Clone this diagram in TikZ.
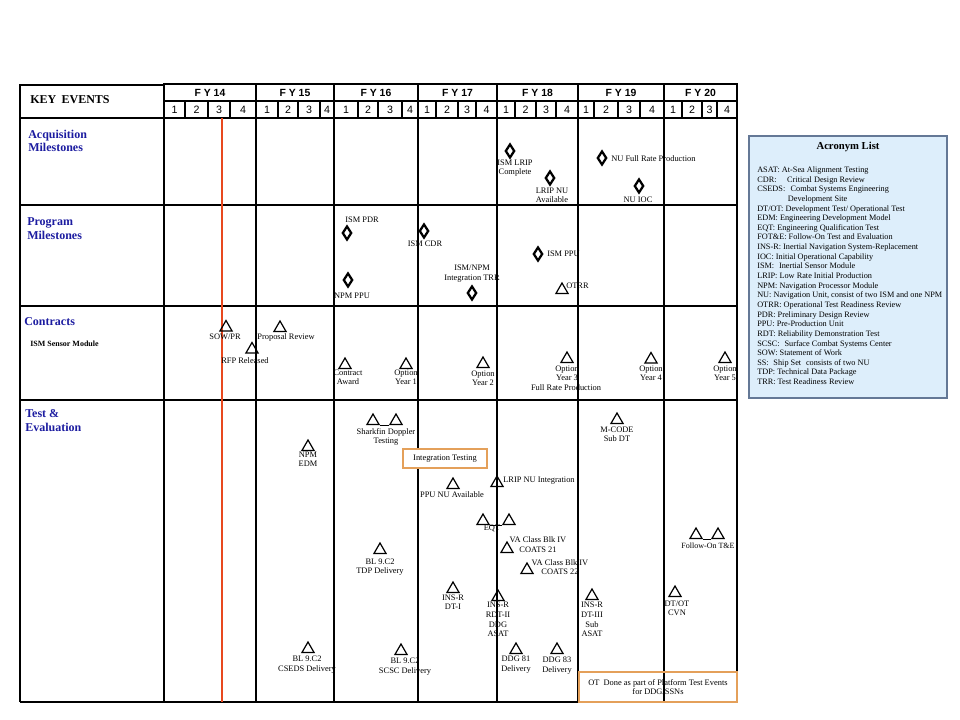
\documentclass[tikz,border=0pt]{standalone}
\usepackage{fontspec}
\setmainfont{Liberation Serif}
\newfontfamily\arialf{Liberation Sans}
\usetikzlibrary{shapes.geometric}
\definecolor{catblue}{RGB}{28,28,160}
\definecolor{redline}{RGB}{232,72,30}
\definecolor{orangebox}{RGB}{228,160,90}
\definecolor{acrofill}{RGB}{221,238,251}
\definecolor{acroedge}{RGB}{100,120,150}
\begin{document}
\begin{tikzpicture}[x=0.75pt,y=-0.75pt,
  grid/.style={line width=1pt},
  thickgrid/.style={line width=2.2pt},
  tri/.style={regular polygon, regular polygon sides=3, draw, line width=0.9pt, minimum size=10.5pt, inner sep=0pt},
  dia/.style={diamond, draw, line width=1.7pt, minimum width=7pt, minimum height=10.5pt, inner sep=0pt},
  lbl/.style={font=\fontsize{6.3}{7}\selectfont, align=center, inner sep=0pt},
  lbl4/.style={font=\fontsize{6.3}{7.25}\selectfont, align=center, inner sep=0pt},
  cat/.style={font=\fontsize{9}{10.3}\selectfont\bfseries, text=catblue, align=left, anchor=north west, inner sep=0pt},
  fyl/.style={font=\arialf\bfseries\fontsize{7.8}{9}\selectfont, inner sep=0pt},
  qn/.style={font=\arialf\fontsize{8}{9}\selectfont, inner sep=0pt},
  obox/.style={draw=orangebox, line width=0.9pt},
  pairline/.style={line width=0.9pt}
]
\useasboundingbox (0,0) rectangle (960,720);

% ---------- header ----------
\draw[grid] (20,85) rectangle (164,118);
\node[font=\fontsize{9}{10}\selectfont\bfseries, anchor=west, inner sep=0pt] (keyev) at (30,100) {KEY\hspace{4pt}EVENTS};
\foreach \a/\b/\t [count=\i] in {164/256/14,256/334/15,334/418/16,418/497/17,497/578/18,578/664/19,664/737/20}{
  \draw[grid] (\a,84) rectangle (\b,101);
  \draw[grid] (\a,101) rectangle (\b,118);
  \node[fyl] (fy\i) at ({(\a+\b)/2},92.5) {F Y \t};
}
\draw[line width=1.8pt] (164,84) rectangle (256,118);
\foreach \a/\b/\n [count=\i] in {164/185/1,185/208/2,208/230/3,230/256/4,
  256/278/1,278/298/2,298/320/3,320/334/4,
  334/358/1,358/378/2,378/402/3,402/418/4,
  418/436/1,436/458/2,458/476/3,476/497/4,
  497/515/1,515/536/2,536/556/3,556/578/4,
  578/594/1,594/618/2,618/640/3,640/664/4,
  664/682/1,682/702/2,702/717/3,717/737/4}{
  \draw[grid] (\b,101) -- (\b,118);
  \node[qn] (q\i) at ({(\a+\b)/2},109.5) {\n};
}

% ---------- body grid ----------
\foreach \y in {118,205,306,400,702}{ \draw[grid] (20,\y) -- (737,\y); }
\foreach \x in {20,164,256,334,418,578,664,737}{ \draw[grid] (\x,118) -- (\x,702); }
\draw[thickgrid] (497,84) -- (497,702);
\draw[line width=2pt, redline] (222,118) -- (222,702);

% ---------- category labels ----------
\node[cat] (cat1) at (28,129.5) {Acquisition\\Milestones};
\node[cat] (cat2) at (27,217.5) {Program\\Milestones};
\node[cat] (cat3) at (24,317.5) {Contracts};
\node[font=\fontsize{6}{7}\selectfont\bfseries, anchor=west, inner sep=0pt] (ismsm) at (30,344) {ISM Sensor Module};
\node[cat] (cat4) at (25,409.5) {Test \&\\Evaluation};

% ---------- acquisition milestones ----------
\node[dia] (d1) at (510,151) {};
\node[lbl] (l1) at (515,168) {ISM LRIP\\Complete};
\node[dia] (d2) at (550,178) {};
\node[lbl] (l2) at (552,195.5) {LRIP NU\\Available};
\node[dia] (d3) at (602,158) {};
\node[lbl, anchor=west] (l3) at (611,159) {NU Full Rate Production};
\node[dia] (d4) at (639,186) {};
\node[lbl] (l4) at (638,200) {NU IOC};

% ---------- program milestones ----------
\node[dia] (d5) at (347,233) {};
\node[lbl] (l5) at (362,220) {ISM PDR};
\node[dia] (d6) at (348,280) {};
\node[lbl] (l6) at (352,296) {NPM PPU};
\node[dia] (d7) at (424,231) {};
\node[lbl] (l7) at (425,244) {ISM CDR};
\node[lbl] (l8) at (472,273.5) {ISM/NPM\\Integration TRR};
\node[dia] (d8) at (472,293) {};
\node[dia] (d9) at (538,254) {};
\node[lbl, anchor=west] (l9) at (547,254) {ISM PPU};
\node[tri] (t1) at (562,290) {};
\node[lbl, anchor=west] (l10) at (566,286) {OTRR};

% ---------- contracts ----------
\node[tri] (c1) at (226,327.5) {};
\node[lbl] (cl1) at (225,337) {SOW/PR};
\node[tri] (c2) at (280,328) {};
\node[lbl] (cl2) at (286,337) {Proposal Review};
\node[tri] (c3) at (252,349.5) {};
\node[lbl] (cl3) at (245,361) {RFP Released};
\node[tri] (c4) at (345,365) {};
\node[lbl] (cl4) at (348,377.5) {Contract\\Award};
\node[tri] (c5) at (406,365) {};
\node[lbl] (cl5) at (406,377.5) {Option\\Year 1};
\node[tri] (c6) at (483,364) {};
\node[lbl] (cl6) at (483,378.5) {Option\\Year 2};
\node[tri] (c7) at (567,359) {};
\node[lbl] (cl7) at (567,373.5) {Option\\Year 3};
\node[lbl] (cl7b) at (566,388) {Full Rate Production};
\node[tri] (c8) at (651,359.5) {};
\node[lbl] (cl8) at (651,373.5) {Option\\Year 4};
\node[tri] (c9) at (725,359) {};
\node[lbl] (cl9) at (725,373.5) {Option\\Year 5};

% ---------- test & evaluation ----------
\node[tri] (e1a) at (373,421) {};
\node[tri] (e1b) at (396,421) {};
\draw[pairline] (e1a.corner 3) -- (e1b.corner 2);
\node[lbl] (el1) at (386,437) {Sharkfin Doppler\\Testing};
\node[tri] (e2) at (308,447) {};
\node[lbl] (el2) at (308,459.5) {NPM\\EDM};
\node[obox, fill=white, minimum width=63pt, minimum height=14.25pt, inner sep=0pt, font=\fontsize{6.3}{7}\selectfont] (itbox) at (445,458.5) {Integration Testing};
\node[tri] (e3) at (453,485) {};
\node[lbl] (el3) at (452,495) {PPU NU Available};
\node[tri] (e4) at (497,483) {};
\node[lbl, anchor=west] (el4) at (503,481) {LRIP NU Integration};
\node[tri] (e5a) at (483,521) {};
\node[tri] (e5b) at (509,521) {};
\draw[pairline] (e5a.corner 3) -- (e5b.corner 2);
\node[lbl] (el5) at (492,528.5) {EQT};
\node[tri] (e6) at (507,549) {};
\node[lbl] (el6) at (538,544.5) {VA Class Blk IV\\COATS 21};
\node[tri] (e7) at (527,570) {};
\node[lbl] (el7) at (560,567) {VA Class Blk IV\\COATS 22};
\node[tri] (e8) at (380,550) {};
\node[lbl] (el8) at (380,567) {BL 9.C2\\TDP Delivery};
\node[tri] (e9) at (453,589) {};
\node[lbl] (el9) at (453,602.5) {INS-R\\DT-I};
\node[tri] (e10) at (498,597) {};
\node[lbl4] (el10) at (498,619.5) {INS-R\\RDT-II\\DDG\\ASAT};
\node[tri] (e11) at (592,596) {};
\node[lbl4] (el11) at (592,619.5) {INS-R\\DT-III\\Sub\\ASAT};
\node[tri] (e12) at (675,593) {};
\node[lbl] (el12) at (677,608.5) {DT/OT\\CVN};
\node[tri] (e13a) at (696,535) {};
\node[tri] (e13b) at (718,535) {};
\draw[pairline] (e13a.corner 3) -- (e13b.corner 2);
\node[lbl, font=\fontsize{6}{7}\selectfont] (el13) at (708,546) {Follow-On T\&E};
\node[tri] (e14) at (617,420) {};
\node[lbl] (el14) at (617,434) {M-CODE\\Sub DT};
\node[tri] (e15) at (308,649) {};
\node[lbl] (el15) at (307,664.5) {BL 9.C2\\CSEDS Delivery};
\node[tri] (e16) at (401,651) {};
\node[lbl] (el16) at (405,666.5) {BL 9.C2\\SCSC Delivery};
\node[tri] (e17) at (516,650) {};
\node[lbl] (el17) at (516,664.5) {DDG 81\\Delivery};
\node[tri] (e18) at (557,650) {};
\node[lbl] (el18) at (557,665.5) {DDG 83\\Delivery};
\node[obox, minimum width=118.5pt, minimum height=22.5pt, inner sep=0pt, lbl] (otbox) at (658,687) {OT\hspace{3pt}Done as part of Platform Test Events\\for DDG/SSNs};

% ---------- acronym list ----------
\node[draw=acroedge, fill=acrofill, line width=0.8pt, minimum width=148.5pt, minimum height=196.5pt, inner sep=0pt] (acrobox) at (848,267) {};
\node[font=\fontsize{8}{9}\selectfont\bfseries, inner sep=0pt] (acrotitle) at (848,147) {Acronym List};
\node[font=\fontsize{6.2}{7.23}\selectfont, align=left, anchor=north west, inner sep=0pt] (acrotext) at (757,166.5) {%
ASAT: At-Sea Alignment Testing\\
CDR:\hspace{8pt}Critical Design Review\\
CSEDS:\hspace{2.5pt} Combat Systems Engineering\\
\hspace*{23pt}Development Site\\
DT/OT: Development Test/ Operational Test\\
EDM: Engineering Development Model\\
EQT: Engineering Qualification Test\\
FOT\&E: Follow-On Test and Evaluation\\
INS-R: Inertial Navigation System-Replacement\\
IOC: Initial Operational Capability\\
ISM:\hspace{2pt} Inertial Sensor Module\\
LRIP: Low Rate Initial Production\\
NPM: Navigation Processor Module\\
NU: Navigation Unit, consist of two ISM and one NPM\\
OTRR: Operational Test Readiness Review\\
PDR: Preliminary Design Review\\
PPU: Pre-Production Unit\\
RDT: Reliability Demonstration Test\\
SCSC:\hspace{2pt} Surface Combat Systems Center\\
SOW: Statement of Work\\
SS:\hspace{2pt} Ship Set\hspace{2pt} consists of two NU\\
TDP: Technical Data Package\\
TRR: Test Readiness Review};
\end{tikzpicture}
\end{document}
